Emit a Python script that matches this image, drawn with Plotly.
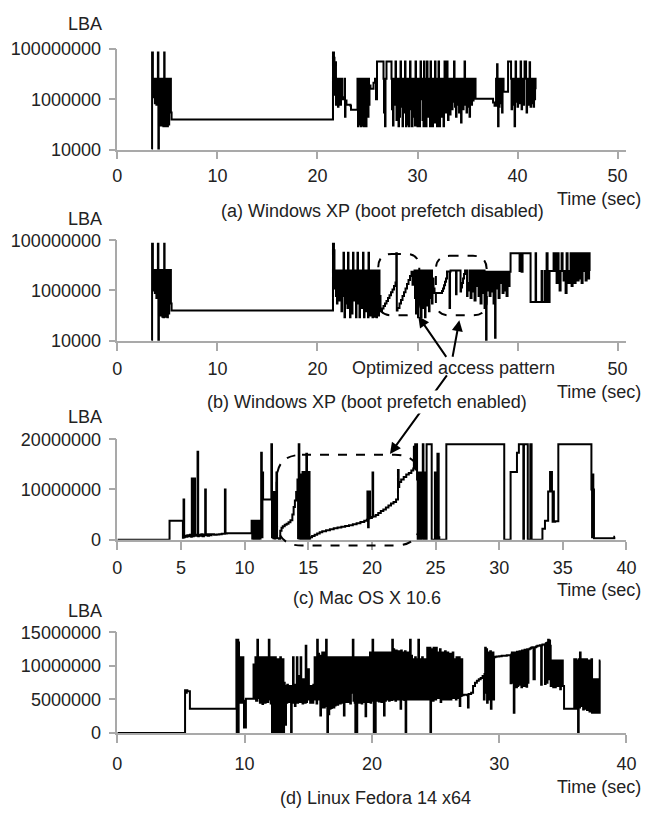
import plotly.graph_objects as go

# ---------------- data (LBA values in millions) ----------------
a_time = [
    3.45, 3.47, 3.55, 3.60, 3.68, 3.75, 3.80, 3.85, 3.90, 3.95,
    4.00, 4.05, 4.10, 4.15, 4.25, 4.30, 4.35, 4.42, 4.50, 4.55,
    4.60, 4.68, 4.72, 4.80, 4.85, 4.90, 4.95, 5.00, 5.05, 5.12,
    5.18, 5.25, 5.30, 5.35, 5.42, 21.55, 21.65, 21.70, 21.75, 21.80,
    21.85, 21.90, 21.95, 22.00, 22.05, 22.10, 22.15, 22.20, 22.25, 22.30,
    22.35, 22.45, 22.60, 22.70, 22.75, 22.80, 22.90, 23.30, 23.35, 24.00,
    24.05, 24.10, 24.15, 24.20, 24.25, 24.30, 24.35, 24.40, 24.45, 24.50,
    24.55, 24.60, 24.65, 24.70, 24.75, 24.80, 24.85, 24.90, 24.95, 25.00,
    25.05, 25.10, 25.15, 25.20, 25.30, 25.60, 25.75, 25.85, 25.95, 26.60,
    26.65, 26.70, 26.75, 26.80, 26.90, 27.40, 27.45, 27.50, 27.55, 27.60,
    27.65, 27.70, 27.75, 27.80, 27.85, 27.90, 27.95, 28.00, 28.05, 28.10,
    28.15, 28.20, 28.25, 28.30, 28.35, 28.40, 28.45, 28.50, 28.55, 28.60,
    28.65, 28.70, 28.75, 28.80, 28.85, 28.90, 28.95, 29.00, 29.05, 29.10,
    29.15, 29.20, 29.25, 29.30, 29.35, 29.40, 29.45, 29.50, 29.55, 29.60,
    29.65, 29.70, 29.75, 29.80, 29.85, 29.90, 29.95, 30.00, 30.05, 30.10,
    30.15, 30.20, 30.25, 30.30, 30.35, 30.40, 30.45, 30.50, 30.55, 30.60,
    30.65, 30.70, 30.75, 30.80, 30.85, 30.90, 30.95, 31.00, 31.05, 31.10,
    31.15, 31.20, 31.25, 31.30, 31.35, 31.40, 31.45, 31.50, 31.55, 31.60,
    31.65, 31.70, 31.75, 31.80, 31.85, 31.90, 31.95, 32.00, 32.05, 32.10,
    32.15, 32.20, 32.25, 32.30, 32.35, 32.40, 32.45, 32.50, 32.55, 32.60,
    32.65, 32.70, 32.75, 32.80, 32.85, 32.90, 32.95, 33.00, 33.05, 33.10,
    33.15, 33.20, 33.25, 33.30, 33.35, 33.40, 33.45, 33.50, 33.55, 33.60,
    33.65, 33.70, 33.75, 33.80, 33.85, 33.90, 33.95, 34.00, 34.05, 34.10,
    34.15, 34.20, 34.25, 34.30, 34.35, 34.40, 34.45, 34.50, 34.55, 34.60,
    34.65, 34.70, 34.75, 34.80, 34.85, 34.90, 34.95, 35.00, 35.05, 35.10,
    35.15, 35.20, 35.25, 35.30, 35.35, 35.40, 35.45, 35.50, 35.60, 35.80,
    37.55, 37.70, 37.85, 37.90, 37.95, 38.00, 38.05, 38.10, 38.15, 38.20,
    38.25, 38.30, 38.35, 38.40, 38.45, 38.50, 38.60, 39.05, 39.35, 39.40,
    39.45, 39.50, 39.55, 39.60, 39.65, 39.70, 39.75, 39.80, 39.85, 39.90,
    39.95, 40.00, 40.05, 40.10, 40.15, 40.20, 40.25, 40.30, 40.35, 40.40,
    40.45, 40.50, 40.55, 40.60, 40.65, 40.70, 40.75, 40.80, 40.85, 40.90,
    40.95, 41.00, 41.05, 41.10, 41.15, 41.20, 41.25, 41.30, 41.35, 41.40,
    41.45, 41.50, 41.55, 41.60, 41.65, 41.70, 41.75, 41.80,
]
a_lba = [
    0.01, 72, 6.5, 1.2, 6.5, 0.7, 6.5, 1.5, 0.6, 6.5,
    1.0, 72, 0.01, 1.2, 2.0, 6.5, 0.09, 6.5, 0.1, 6.5,
    0.085, 72, 6.5, 0.085, 6.5, 0.2, 6.5, 0.085, 6.5, 0.1,
    6.5, 0.6, 6.5, 0.3, 0.158, 72, 45, 6.5, 1.5, 30,
    0.6, 6.5, 0.8, 6.5, 0.5, 6.5, 0.7, 2.0, 6.5, 0.6,
    6.5, 1.0, 1.2, 6.5, 0.2, 0.9, 0.6, 0.55, 0.38, 6.5,
    0.085, 6.5, 0.1, 6.5, 0.4, 6.5, 0.085, 6.5, 0.09, 6.5,
    0.7, 6.5, 0.085, 6.5, 0.3, 6.5, 0.085, 6.5, 0.5, 6.5,
    0.2, 6.5, 0.6, 3.5, 2.6, 4.5, 6.5, 1.0, 32, 6.5,
    0.3, 6.5, 0.085, 6.5, 32, 6.5, 0.4, 6.5, 0.09, 6.5,
    1.5, 0.6, 6.5, 32, 6.5, 0.15, 6.5, 0.7, 6.5, 0.085,
    6.5, 0.2, 6.5, 32, 6.5, 0.5, 6.5, 0.085, 6.5, 1.0,
    6.5, 0.3, 32, 6.5, 0.085, 6.5, 0.6, 6.5, 0.1, 6.5,
    0.085, 6.5, 32, 6.5, 0.4, 6.5, 0.085, 6.5, 1.2, 6.5,
    0.2, 6.5, 0.09, 32, 6.5, 0.6, 6.5, 0.085, 6.5, 0.3,
    6.5, 0.085, 6.5, 32, 6.5, 1.0, 6.5, 0.15, 6.5, 0.085,
    32, 6.5, 0.5, 6.5, 0.085, 6.5, 32, 6.5, 0.2, 6.5,
    0.7, 6.5, 0.085, 32, 6.5, 0.3, 6.5, 0.085, 6.5, 1.2,
    6.5, 0.12, 32, 6.5, 0.6, 6.5, 0.085, 6.5, 0.4, 32,
    6.5, 0.085, 6.5, 0.9, 6.5, 0.2, 6.5, 0.5, 6.5, 0.085,
    6.5, 32, 6.5, 0.3, 6.5, 0.7, 32, 6.5, 0.15, 6.5,
    0.6, 6.5, 0.25, 6.5, 1.0, 6.5, 0.4, 6.5, 0.8, 6.5,
    32, 6.5, 0.5, 6.5, 0.2, 6.5, 1.2, 6.5, 0.6, 6.5,
    0.3, 6.5, 0.9, 6.5, 0.12, 6.5, 0.7, 6.5, 0.4, 6.5,
    1.0, 32, 6.5, 0.6, 6.5, 0.3, 6.5, 1.1, 6.5, 0.5,
    6.5, 0.2, 6.5, 0.8, 6.5, 0.6, 6.5, 0.9, 6.5, 1.05,
    0.75, 0.55, 6.5, 0.6, 25, 6.5, 0.085, 6.5, 0.5, 6.5,
    1.0, 6.5, 0.7, 6.5, 0.3, 6.5, 2.0, 32, 6.5, 0.4,
    6.5, 1.0, 6.5, 0.6, 6.5, 0.085, 6.5, 32, 6.5, 0.8,
    6.5, 0.5, 6.5, 1.2, 6.5, 0.7, 6.5, 32, 6.5, 0.4,
    6.5, 1.0, 6.5, 0.6, 6.5, 32, 6.5, 32, 6.5, 0.3,
    6.5, 0.9, 6.5, 0.6, 6.5, 30, 6.5, 0.5, 6.5, 1.2,
    6.5, 0.7, 6.5, 0.5, 6.5, 1.0, 6.5, 2.5,
]

b_time = [
    3.45, 3.47, 3.55, 3.60, 3.68, 3.75, 3.80, 3.85, 3.90, 3.95,
    4.00, 4.05, 4.10, 4.15, 4.25, 4.30, 4.35, 4.42, 4.50, 4.55,
    4.60, 4.68, 4.72, 4.80, 4.85, 4.90, 4.95, 5.00, 5.05, 5.12,
    5.18, 5.25, 5.30, 5.35, 5.42, 21.55, 21.65, 21.70, 21.75, 21.80,
    21.85, 21.90, 21.95, 22.00, 22.05, 22.10, 22.15, 22.20, 22.30, 22.35,
    22.40, 22.45, 22.50, 22.55, 22.60, 22.65, 22.70, 22.75, 22.80, 22.85,
    22.90, 22.95, 23.00, 23.05, 23.10, 23.15, 23.20, 23.25, 23.30, 23.35,
    23.40, 23.45, 23.50, 23.55, 23.60, 23.65, 23.70, 23.75, 23.80, 23.85,
    23.90, 23.95, 24.00, 24.05, 24.10, 24.15, 24.20, 24.25, 24.30, 24.35,
    24.40, 24.45, 24.50, 24.55, 24.60, 24.65, 24.70, 24.75, 24.80, 24.85,
    24.90, 24.95, 25.00, 25.05, 25.10, 25.15, 25.20, 25.25, 25.30, 25.35,
    25.40, 25.45, 25.50, 25.55, 25.60, 25.65, 25.70, 25.75, 25.80, 25.85,
    25.90, 25.95, 26.00, 26.05, 26.10, 26.15, 26.20, 26.30, 26.45, 26.60,
    26.75, 26.90, 27.05, 27.20, 27.35, 27.50, 27.65, 27.80, 27.88, 27.93,
    28.00, 28.20, 28.35, 28.50, 28.65, 28.80, 28.95, 29.10, 29.25, 29.40,
    29.50, 29.60, 29.70, 29.75, 29.80, 29.85, 29.90, 29.95, 30.00, 30.05,
    30.10, 30.15, 30.20, 30.25, 30.30, 30.35, 30.40, 30.45, 30.50, 30.55,
    30.60, 30.65, 30.70, 30.75, 30.80, 30.85, 30.90, 30.95, 31.00, 31.05,
    31.10, 31.15, 31.20, 31.25, 31.30, 31.35, 31.40, 31.45, 31.50, 31.60,
    31.70, 32.45, 32.55, 32.65, 32.75, 32.85, 32.95, 33.20, 33.25, 33.30,
    33.85, 33.90, 34.00, 34.30, 34.35, 34.45, 34.55, 34.65, 34.75, 34.95,
    35.00, 35.10, 35.20, 35.30, 35.40, 35.50, 35.60, 35.70, 35.80, 35.90,
    36.00, 36.10, 36.20, 36.30, 36.40, 36.50, 36.60, 36.70, 36.80, 36.85,
    36.90, 37.00, 37.10, 37.20, 37.30, 37.40, 37.50, 37.60, 37.70, 37.75,
    37.80, 37.90, 38.00, 38.10, 38.20, 38.30, 38.40, 38.50, 38.60, 38.70,
    38.80, 38.90, 39.00, 39.10, 39.20, 39.30, 40.20, 40.30, 40.40, 40.50,
    41.30, 41.80, 41.85, 42.40, 42.45, 42.70, 42.80, 42.90, 43.00, 43.10,
    43.20, 43.60, 43.70, 43.80, 43.90, 44.00, 44.10, 44.20, 44.30, 44.40,
    44.50, 44.60, 44.70, 44.80, 44.90, 45.00, 45.10, 45.20, 45.30, 45.40,
    45.50, 45.60, 45.70, 45.80, 45.90, 46.00, 46.10, 46.20, 46.30, 46.40,
    46.50, 46.60, 46.70, 46.80, 46.90, 47.00, 47.05, 47.10, 47.15, 47.20,
]
b_lba = [
    0.01, 72, 6.5, 1.0, 6.5, 0.8, 6.5, 1.4, 0.5, 6.5,
    1.2, 72, 0.01, 1.0, 2.2, 6.5, 0.1, 6.5, 0.09, 6.5,
    0.085, 72, 6.5, 0.09, 6.5, 0.25, 6.5, 0.085, 6.5, 0.12,
    6.5, 0.5, 6.5, 0.3, 0.158, 72, 40, 6.2, 1.2, 6.2,
    0.6, 6.2, 0.3, 6.2, 1.0, 6.2, 0.4, 6.2, 0.8, 6.2,
    0.15, 6.2, 0.6, 6.2, 32, 6.2, 0.085, 6.2, 0.3, 6.2,
    1.0, 6.2, 0.2, 32, 6.2, 0.5, 6.2, 0.085, 6.2, 0.7,
    6.2, 0.12, 6.2, 32, 6.2, 0.4, 6.2, 0.9, 6.2, 0.085,
    6.2, 0.3, 32, 6.2, 0.6, 6.2, 0.085, 6.2, 1.2, 6.2,
    0.2, 6.2, 0.5, 32, 6.2, 0.085, 6.2, 0.4, 6.2, 0.15,
    6.2, 0.7, 6.2, 0.085, 32, 6.2, 0.3, 6.2, 0.1, 6.2,
    0.5, 6.2, 0.085, 6.2, 0.25, 6.2, 0.09, 6.2, 0.6, 6.2,
    0.085, 6.2, 0.3, 6.2, 0.1, 6.2, 0.6, 0.15, 0.19, 0.24,
    0.3, 0.38, 0.5, 0.65, 0.85, 1.1, 1.5, 2.1, 30, 0.16,
    0.2, 0.3, 0.42, 0.6, 0.85, 1.2, 1.8, 2.6, 3.8, 5.5,
    1.7, 3.0, 6.2, 0.5, 6.2, 0.12, 6.2, 0.9, 6.2, 0.085,
    6.2, 0.3, 6.2, 1.2, 6.2, 0.085, 6.2, 0.6, 6.2, 0.2,
    6.2, 0.4, 6.2, 0.085, 6.2, 1.0, 6.2, 0.25, 6.2, 0.7,
    6.2, 0.15, 6.2, 1.5, 6.2, 0.5, 6.2, 0.3, 3.0, 1.2,
    0.8, 0.95, 1.2, 1.6, 2.2, 3.0, 5.7, 0.2, 5.7, 6.2,
    0.7, 6.2, 6.2, 0.9, 1.3, 2.0, 3.0, 4.5, 6.2, 0.6,
    1.0, 2.0, 6.2, 0.5, 6.2, 0.9, 6.2, 0.4, 6.2, 1.5,
    6.2, 0.6, 6.2, 0.3, 6.2, 0.8, 6.2, 0.2, 5.5, 0.01,
    5.5, 1.0, 5.5, 0.6, 5.5, 0.9, 5.5, 0.3, 5.5, 0.013,
    5.5, 1.2, 5.5, 0.5, 5.5, 2.0, 5.5, 0.8, 5.5, 1.0,
    5.5, 0.6, 5.5, 1.5, 5.5, 30, 6.0, 30, 5.5, 30,
    0.35, 30, 0.35, 6.0, 0.35, 6.0, 0.35, 30, 6.0, 0.35,
    6.0, 30, 6.0, 30, 2.0, 30, 6.0, 1.0, 6.0, 30,
    6.0, 2.5, 6.0, 0.8, 30, 6.0, 2.0, 6.0, 30, 1.5,
    6.0, 30, 2.0, 30, 6.0, 2.5, 30, 3.0, 30, 2.0,
    30, 6.0, 30, 2.5, 30, 6.0, 30, 3.0, 30, 6.0,
]

c_time = [
    0.00, 4.10, 5.15, 5.20, 5.25, 5.30, 5.40, 5.50, 5.60, 5.70,
    5.80, 5.85, 5.90, 6.00, 6.05, 6.10, 6.20, 6.30, 6.35, 6.40,
    6.50, 6.60, 6.70, 6.80, 6.90, 6.95, 7.00, 7.10, 7.20, 7.30,
    7.40, 7.60, 7.80, 8.00, 8.20, 8.45, 8.50, 8.60, 9.00, 9.50,
    10.00, 10.55, 10.60, 10.65, 10.70, 10.75, 10.80, 10.85, 10.90, 10.95,
    11.00, 11.05, 11.10, 11.15, 11.20, 11.25, 11.30, 11.35, 11.40, 11.45,
    12.10, 12.15, 12.20, 12.25, 12.30, 12.35, 12.40, 12.50, 12.55, 12.70,
    12.80, 12.90, 13.00, 13.15, 13.30, 13.45, 13.60, 13.75, 13.85, 13.95,
    14.05, 14.15, 14.20, 14.25, 14.30, 14.35, 14.40, 14.45, 14.50, 14.55,
    14.60, 14.65, 14.70, 14.75, 14.80, 14.85, 14.90, 14.95, 15.00, 15.05,
    15.10, 15.15, 15.30, 15.50, 15.70, 15.90, 16.10, 16.40, 16.70, 17.00,
    17.30, 17.60, 17.90, 18.20, 18.50, 18.80, 19.10, 19.40, 19.60, 19.65,
    19.70, 19.75, 19.80, 19.85, 20.00, 20.05, 20.10, 20.30, 20.50, 20.70,
    20.90, 21.10, 21.30, 21.50, 21.70, 21.90, 22.05, 22.10, 22.15, 22.30,
    22.50, 22.70, 22.90, 23.10, 23.25, 23.30, 23.35, 23.40, 23.45, 23.50,
    23.55, 23.60, 23.65, 23.70, 23.75, 23.80, 23.85, 23.90, 23.95, 24.00,
    24.05, 24.10, 24.15, 24.30, 24.70, 24.95, 25.00, 25.15, 25.25, 25.30,
    25.85, 30.40, 30.90, 31.40, 31.55, 31.90, 31.95, 32.25, 32.45, 32.55,
    33.40, 33.60, 33.85, 34.00, 34.15, 34.20, 34.25, 34.30, 34.40, 34.65,
    37.25, 37.30, 37.35, 37.40, 37.45, 37.50, 39.05, 39.10,
]
c_lba = [
    0.0, 3.8, 0.4, 8.0, 0.5, 0.8, 0.6, 0.9, 0.7, 1.0,
    0.6, 12.2, 0.7, 0.9, 12.2, 0.8, 1.0, 17.5, 0.7, 1.0,
    0.8, 1.1, 0.7, 1.0, 10.0, 0.9, 1.1, 0.8, 1.1, 0.9,
    1.1, 1.0, 1.05, 1.1, 1.2, 10.0, 1.25, 1.3, 1.3, 1.3,
    1.3, 3.8, 0.2, 3.6, 0.0, 3.8, 0.3, 3.5, 0.1, 3.8,
    0.4, 3.6, 0.0, 3.8, 0.2, 3.5, 17.3, 0.5, 13.4, 8.0,
    19.0, 0.5, 9.5, 0.3, 9.5, 0.2, 3.0, 13.4, 0.3, 0.0,
    1.8, 2.4, 2.7, 3.0, 3.2, 3.5, 3.9, 5.0, 6.5, 7.8,
    9.5, 12.0, 0.3, 19.0, 0.2, 12.5, 0.0, 13.0, 0.5, 13.5,
    0.0, 13.5, 0.2, 13.5, 0.0, 17.1, 0.1, 13.5, 0.0, 13.5,
    0.2, 0.5, 0.75, 1.0, 1.25, 1.5, 1.7, 1.9, 2.1, 2.3,
    2.45, 2.6, 2.75, 2.9, 3.1, 3.3, 3.55, 3.8, 4.0, 9.6,
    2.5, 4.2, 9.6, 4.3, 4.5, 13.4, 4.6, 4.9, 5.3, 5.7,
    6.0, 6.4, 6.8, 7.2, 7.5, 8.0, 13.9, 10.5, 11.5, 12.0,
    12.5, 13.0, 13.3, 13.8, 14.2, 18.5, 14.5, 19.0, 14.0, 19.0,
    12.0, 0.0, 13.4, 0.5, 12.5, 0.0, 13.4, 0.2, 13.0, 19.0,
    0.0, 13.4, 0.0, 19.0, 0.0, 13.4, 0.0, 17.1, 0.5, 0.0,
    19.0, 0.0, 13.5, 17.3, 19.0, 0.0, 19.0, 0.0, 19.0, 0.0,
    2.2, 3.8, 9.6, 13.5, 9.6, 3.6, 9.6, 3.6, 3.7, 19.0,
    10.0, 0.5, 13.0, 10.0, 0.3, 0.3, 0.6, 0.6,
]

d_time = [
    0.00, 5.32, 5.40, 5.45, 5.50, 5.70, 9.35, 9.38, 9.41, 9.44,
    9.47, 9.50, 9.53, 9.56, 9.60, 9.65, 9.70, 9.75, 9.80, 9.85,
    9.90, 9.95, 10.10, 10.70, 10.75, 10.85, 10.90, 11.00, 11.05, 11.15,
    11.20, 11.25, 11.30, 11.35, 11.40, 11.45, 11.50, 11.55, 11.60, 11.65,
    11.70, 11.75, 11.80, 11.85, 11.90, 11.95, 12.00, 12.05, 12.10, 12.15,
    12.20, 12.25, 12.30, 12.35, 12.40, 12.45, 12.50, 12.55, 12.60, 12.65,
    12.70, 12.75, 12.80, 12.85, 12.90, 12.95, 13.00, 13.05, 13.10, 13.15,
    13.20, 13.25, 13.30, 13.35, 13.40, 13.45, 13.50, 13.55, 13.60, 13.65,
    13.70, 13.75, 13.80, 13.85, 13.90, 13.95, 14.00, 14.05, 14.10, 14.15,
    14.20, 14.25, 14.30, 14.35, 14.40, 14.45, 14.50, 14.55, 14.60, 14.65,
    14.70, 14.75, 14.80, 14.85, 14.90, 14.95, 15.00, 15.05, 15.10, 15.15,
    15.20, 15.25, 15.30, 15.35, 15.40, 15.45, 15.50, 15.55, 15.60, 15.65,
    15.70, 15.75, 15.80, 15.85, 15.90, 15.95, 16.00, 16.05, 16.10, 16.15,
    16.20, 16.25, 16.30, 16.35, 16.40, 16.45, 16.50, 16.55, 16.60, 16.65,
    16.70, 16.75, 16.80, 16.85, 16.90, 16.95, 17.00, 17.05, 17.10, 17.15,
    17.20, 17.25, 17.30, 17.35, 17.40, 17.45, 17.50, 17.55, 17.60, 17.65,
    17.70, 17.75, 17.80, 17.85, 17.90, 17.95, 18.00, 18.05, 18.10, 18.15,
    18.20, 18.25, 18.30, 18.35, 18.40, 18.45, 18.50, 18.55, 18.60, 18.65,
    18.70, 18.75, 18.80, 18.85, 18.90, 18.95, 19.00, 19.05, 19.10, 19.15,
    19.20, 19.25, 19.30, 19.35, 19.40, 19.45, 19.50, 19.55, 19.60, 19.65,
    19.70, 19.75, 19.80, 19.85, 19.90, 19.95, 20.00, 20.05, 20.10, 20.15,
    20.20, 20.25, 20.30, 20.35, 20.40, 20.45, 20.50, 20.55, 20.60, 20.65,
    20.70, 20.75, 20.80, 20.85, 20.90, 20.95, 21.00, 21.05, 21.10, 21.15,
    21.20, 21.25, 21.30, 21.35, 21.40, 21.45, 21.50, 21.55, 21.60, 21.65,
    21.70, 21.75, 21.80, 21.85, 21.90, 21.95, 22.00, 22.05, 22.10, 22.15,
    22.20, 22.25, 22.30, 22.35, 22.40, 22.45, 22.50, 22.55, 22.60, 22.65,
    22.70, 22.75, 22.80, 22.85, 22.90, 22.95, 23.00, 23.05, 23.10, 23.15,
    23.20, 23.25, 23.30, 23.35, 23.40, 23.45, 23.50, 23.55, 23.60, 23.65,
    23.70, 23.75, 23.80, 23.85, 23.90, 23.95, 24.00, 24.05, 24.10, 24.15,
    24.20, 24.25, 24.30, 24.35, 24.40, 24.45, 24.50, 24.55, 24.60, 24.65,
    24.70, 24.75, 24.80, 24.85, 24.90, 24.95, 25.00, 25.05, 25.10, 25.15,
    25.20, 25.25, 25.30, 25.35, 25.40, 25.45, 25.50, 25.55, 25.60, 25.65,
    25.70, 25.75, 25.80, 25.85, 25.90, 25.95, 26.00, 26.05, 26.10, 26.15,
    26.20, 26.25, 26.30, 26.35, 26.40, 26.45, 26.50, 26.55, 26.60, 26.65,
    26.70, 26.75, 26.80, 26.85, 26.90, 26.95, 27.00, 27.05, 27.10, 27.20,
    27.50, 27.55, 27.60, 27.80, 27.95, 28.10, 28.25, 28.40, 28.55, 28.70,
    28.80, 28.85, 28.90, 28.95, 29.00, 29.05, 29.10, 29.15, 29.20, 29.25,
    29.30, 29.35, 29.40, 29.45, 29.50, 29.55, 29.60, 29.70, 29.80, 29.90,
    30.00, 30.20, 30.40, 30.60, 30.80, 30.90, 30.95, 31.00, 31.05, 31.10,
    31.15, 31.20, 31.25, 31.30, 31.35, 31.40, 31.45, 31.50, 31.55, 31.60,
    31.65, 31.70, 31.75, 31.80, 31.85, 31.90, 31.95, 32.00, 32.05, 32.10,
    32.15, 32.20, 32.25, 32.30, 32.40, 32.50, 32.60, 32.70, 32.80, 32.90,
    33.00, 33.10, 33.20, 33.30, 33.35, 33.40, 33.50, 33.60, 33.65, 33.70,
    33.75, 33.80, 33.85, 33.90, 33.95, 34.00, 34.05, 34.10, 34.15, 34.20,
    34.25, 34.30, 34.40, 34.45, 34.60, 34.65, 34.80, 34.85, 35.00, 35.10,
    35.90, 35.95, 36.00, 36.05, 36.10, 36.15, 36.20, 36.25, 36.30, 36.35,
    36.40, 36.45, 36.50, 36.55, 36.60, 36.65, 36.70, 36.75, 36.80, 36.85,
    36.90, 36.95, 37.00, 37.05, 37.10, 37.15, 37.20, 37.25, 37.30, 37.35,
    37.40, 37.45, 37.50, 37.55, 37.60, 37.65, 37.70, 37.75, 37.80, 37.90,
    37.95,
]
d_lba = [
    0.0, 6.35, 6.0, 6.35, 6.2, 3.6, 13.9, 0.0, 13.9, 0.5,
    13.9, 0.0, 13.5, 11.3, 4.5, 11.3, 5.0, 10.5, 4.5, 11.3,
    4.8, 0.8, 5.1, 10.2, 5.1, 11.3, 4.8, 13.9, 5.2, 11.3,
    4.5, 11.0, 5.5, 11.3, 4.3, 10.8, 6.0, 11.3, 4.5, 11.3,
    5.0, 10.5, 4.6, 11.3, 13.9, 5.0, 11.3, 4.4, 11.0, 0.0,
    11.3, 0.0, 10.5, 0.3, 11.3, 0.0, 9.0, 0.0, 11.0, 0.5,
    10.8, 0.0, 11.3, 0.0, 7.0, 0.2, 11.0, 0.0, 7.5, 6.5,
    1.2, 7.0, 4.5, 7.2, 5.5, 6.8, 4.6, 7.0, 5.0, 0.0,
    7.0, 4.5, 11.3, 6.5, 7.2, 4.0, 7.0, 6.0, 11.3, 4.5,
    8.5, 5.0, 7.2, 4.6, 11.3, 5.5, 7.0, 4.4, 8.0, 6.5,
    7.5, 4.5, 13.0, 4.6, 7.3, 5.0, 9.5, 6.0, 7.0, 4.5,
    7.0, 5.0, 6.8, 4.5, 7.2, 5.2, 11.3, 5.0, 7.1, 4.4,
    13.9, 5.0, 11.8, 6.0, 11.5, 2.6, 11.3, 3.8, 12.0, 4.0,
    11.5, 3.8, 12.0, 6.0, 13.9, 4.0, 0.0, 11.3, 2.8, 11.0,
    3.6, 11.3, 3.7, 10.8, 4.0, 11.3, 3.8, 9.0, 4.1, 11.3,
    5.0, 11.0, 4.2, 11.3, 6.0, 10.5, 4.4, 11.3, 5.5, 11.1,
    4.5, 11.3, 2.6, 11.0, 5.0, 11.3, 4.6, 10.8, 5.2, 11.3,
    4.6, 11.0, 4.4, 11.3, 6.0, 10.5, 13.9, 4.8, 11.3, 4.5,
    0.0, 11.3, 0.0, 10.8, 4.6, 11.3, 4.5, 11.0, 5.0, 11.3,
    4.4, 11.2, 5.5, 11.3, 4.6, 10.8, 2.5, 11.3, 4.8, 11.0,
    4.6, 11.3, 5.0, 12.0, 4.5, 11.8, 5.2, 13.9, 4.8, 0.0,
    12.0, 0.0, 11.8, 4.8, 12.0, 5.0, 11.5, 4.7, 12.0, 5.1,
    11.8, 4.6, 12.0, 5.0, 11.6, 2.6, 12.0, 4.8, 11.5, 5.0,
    12.0, 5.0, 11.3, 4.8, 12.0, 5.2, 11.0, 4.9, 13.9, 5.0,
    12.5, 5.0, 12.0, 4.8, 12.3, 5.0, 11.8, 5.1, 12.2, 5.0,
    12.0, 3.6, 12.3, 5.0, 11.5, 5.0, 12.0, 4.9, 12.2, 0.0,
    12.0, 5.0, 11.8, 5.0, 12.0, 5.0, 13.9, 5.0, 11.5, 5.0,
    11.0, 5.0, 10.5, 5.0, 11.3, 5.0, 10.8, 5.0, 11.0, 13.9,
    5.0, 11.0, 5.0, 10.5, 5.0, 11.3, 5.0, 10.8, 5.0, 11.0,
    5.0, 11.0, 5.0, 12.7, 5.5, 12.5, 5.0, 12.7, 0.0, 12.5,
    5.5, 12.3, 4.8, 12.7, 6.0, 11.5, 5.0, 12.7, 5.5, 12.0,
    5.2, 11.8, 5.5, 12.5, 4.6, 11.5, 5.3, 12.0, 5.0, 11.3,
    5.5, 12.2, 5.0, 11.5, 5.8, 12.0, 5.0, 11.0, 5.5, 11.8,
    5.0, 11.3, 5.6, 12.0, 5.2, 11.0, 5.8, 10.8, 5.0, 11.3,
    5.5, 10.5, 5.2, 11.3, 4.0, 10.8, 5.5, 11.0, 5.6, 5.7,
    5.6, 3.8, 5.8, 6.0, 7.0, 7.5, 7.8, 8.0, 8.2, 8.5,
    5.0, 8.8, 12.7, 6.0, 12.5, 4.5, 12.0, 7.0, 11.5, 5.0,
    12.2, 3.6, 11.3, 6.0, 12.0, 5.0, 11.3, 11.35, 11.4, 11.4,
    11.45, 11.5, 11.5, 11.6, 11.6, 7.4, 11.7, 12.0, 7.5, 11.8,
    3.0, 12.0, 7.6, 11.9, 6.8, 12.1, 7.0, 12.0, 8.0, 12.2,
    7.2, 12.2, 6.8, 12.3, 7.6, 12.3, 7.0, 12.4, 7.6, 12.4,
    6.9, 12.5, 7.5, 12.5, 12.6, 12.7, 12.8, 8.0, 12.8, 12.9,
    13.0, 13.0, 13.1, 7.2, 13.1, 13.2, 13.2, 7.3, 13.3, 13.4,
    7.5, 13.5, 13.9, 8.0, 13.8, 13.0, 7.0, 10.8, 7.0, 10.8,
    6.8, 10.8, 6.8, 10.8, 7.0, 10.8, 6.5, 10.8, 7.0, 3.6,
    11.0, 4.5, 11.0, 3.6, 10.8, 5.0, 0.0, 11.0, 3.8, 12.0,
    4.0, 11.0, 5.5, 11.0, 3.5, 10.8, 4.8, 11.0, 3.6, 11.0,
    3.4, 8.0, 3.6, 10.8, 3.2, 8.2, 3.5, 11.0, 3.0, 8.0,
    3.4, 7.5, 3.0, 8.0, 3.2, 7.0, 3.0, 8.0, 3.0, 10.8,
    10.8,
]

log_ticks = [1e4, 1e6, 1e8]
log_ticktext = ["10000", "1000000", "100000000"]
c_yticks = [0, 1e7, 2e7]
c_yticktext = ["0", "10000000", "20000000"]
d_yticks = [0, 5e6, 1e7, 1.5e7]
d_yticktext = ["0", "5000000", "10000000", "15000000"]
ab_xticks = [0, 10, 20, 30, 40, 50]
a_xticktext = ["0", "10", "20", "30", "40", "50"]
b_xticktext = ["0", "10", "20", "", "", "50"]   # 30 and 40 are hidden by the note
c_xticks = [0, 5, 10, 15, 20, 25, 30, 35, 40]
d_xticks = [0, 10, 20, 30, 40]
captions = [
    "(a) Windows XP (boot prefetch disabled)",
    "(b) Windows XP (boot prefetch enabled)",
    "(c) Mac OS X 10.6",
    "(d) Linux Fedora 14 x64",
]

# ---------------- layout helpers (pixel -> paper) ----------------
W, H = 654, 818
FONT = "Liberation Sans, Arial, sans-serif"
FS = 18
TXT = "#222222"
AXC = "#a9a9a9"


def px(x):
    return x / W


def py(y):
    return 1 - y / H


def rrect(x0, y0, x1, y1, r):
    pts = [
        ("M", [(x0 + r, y0)]), ("L", [(x1 - r, y0)]), ("Q", [(x1, y0), (x1, y0 + r)]),
        ("L", [(x1, y1 - r)]), ("Q", [(x1, y1), (x1 - r, y1)]), ("L", [(x0 + r, y1)]),
        ("Q", [(x0, y1), (x0, y1 - r)]), ("L", [(x0, y0 + r)]), ("Q", [(x0, y0), (x0 + r, y0)]),
    ]
    s = ""
    for cmd, ps in pts:
        s += cmd + " " + " ".join(f"{px(a):.5f},{py(b):.5f}" for a, b in ps) + " "
    return s + "Z"


def label(text, x, y, xanchor="center", bg=None):
    d = dict(text=text, x=px(x), y=py(y), xref="paper", yref="paper",
             xanchor=xanchor, yanchor="middle", showarrow=False,
             font=dict(family=FONT, size=FS, color=TXT))
    if bg:
        d.update(bgcolor=bg, borderpad=1)
    return d


X_L, X_R = 115, 636
panels = [(40, 143), (236, 339), (440, 543), (638, 741)]  # (top px, bottom px)
x_standoff = [1, 3, 3, 6]

fig = go.Figure()
series = [(a_time, a_lba), (b_time, b_lba), (c_time, c_lba), (d_time, d_lba)]
for i, (t, v) in enumerate(series):
    sfx = "" if i == 0 else str(i + 1)
    fig.add_trace(go.Scatter(
        x=t, y=[val * 1e6 for val in v], mode="lines",
        line=dict(color="black", width=2, shape="hv"),
        xaxis="x" + sfx, yaxis="y" + sfx, showlegend=False, hoverinfo="skip",
    ))

common = dict(
    showgrid=False, zeroline=False, showline=True, linecolor=AXC, linewidth=1.6,
    ticks="outside", tickcolor=AXC, tickwidth=1.6,
    tickfont=dict(family=FONT, size=FS, color=TXT), layer="below traces",
)

ab_max = 50 * (X_R - X_L) / (627 - X_L)
xinfo = [
    dict(range=[0, ab_max], tickvals=ab_xticks, ticktext=a_xticktext),
    dict(range=[0, ab_max], tickvals=ab_xticks, ticktext=b_xticktext),
    dict(range=[0, 40], tickvals=c_xticks),
    dict(range=[0, 40], tickvals=d_xticks),
]
yinfo = [
    dict(type="log", range=[4, 8], tickvals=log_ticks, ticktext=log_ticktext),
    dict(type="log", range=[4, 8], tickvals=log_ticks, ticktext=log_ticktext),
    dict(range=[0, 2e7], tickvals=c_yticks, ticktext=c_yticktext),
    dict(range=[0, 1.5e7], tickvals=d_yticks, ticktext=d_yticktext),
]
layout_axes = {}
for i in range(4):
    sfx = "" if i == 0 else str(i + 1)
    top, bot = panels[i]
    layout_axes["xaxis" + sfx] = dict(
        common, domain=[px(X_L), px(X_R)], anchor="y" + sfx,
        ticklen=8, ticklabelstandoff=x_standoff[i], **xinfo[i],
    )
    layout_axes["yaxis" + sfx] = dict(
        common, domain=[py(bot), py(top)], anchor="x" + sfx,
        ticklen=7, ticklabelstandoff=4, **yinfo[i],
    )

annotations = []
lba_y = [14, 214, 417, 616]
time_y = [194, 392, 595, 796]
cap_y = [206, 402, 603, 808]
cap_x = [386, 370, 370, 379]
for i in range(4):
    annotations.append(label("LBA", 82, lba_y[i]))
    annotations.append(label("Time (sec)", 653, time_y[i], xanchor="right"))

# arrows: tip position and tail offset in pixels
arrows = [((423, 314), (29, 42)), ((465, 318), (-7, 38)), ((394, 455), (58, -80))]
for (tx, ty), (ax, ay) in arrows:
    annotations.append(dict(x=px(tx), y=py(ty), xref="paper", yref="paper", ax=ax, ay=ay,
                            text="", showarrow=True, arrowhead=2, arrowsize=1.1, arrowwidth=2,
                            arrowcolor="black", standoff=0))
annotations.append(label("Optimized access pattern", 459, 367))
for i in range(4):
    annotations.append(label(captions[i], cap_x[i], cap_y[i], bg="white"))

shapes = [
    dict(type="path", path=rrect(382, 250, 424, 313, 14), xref="paper", yref="paper",
         line=dict(color="black", width=2, dash="dash")),
    dict(type="path", path=rrect(441, 252, 493, 313, 14), xref="paper", yref="paper",
         line=dict(color="black", width=2, dash="dash")),
    dict(type="path", path=rrect(278, 456, 425, 549, 26), xref="paper", yref="paper",
         line=dict(color="black", width=2, dash="dash")),
]

fig.update_layout(
    width=W, height=H, margin=dict(l=0, r=0, t=0, b=0),
    paper_bgcolor="white", plot_bgcolor="white",
    font=dict(family=FONT, size=FS, color=TXT),
    annotations=annotations, shapes=shapes, **layout_axes,
)

fig.write_html("out.html")
